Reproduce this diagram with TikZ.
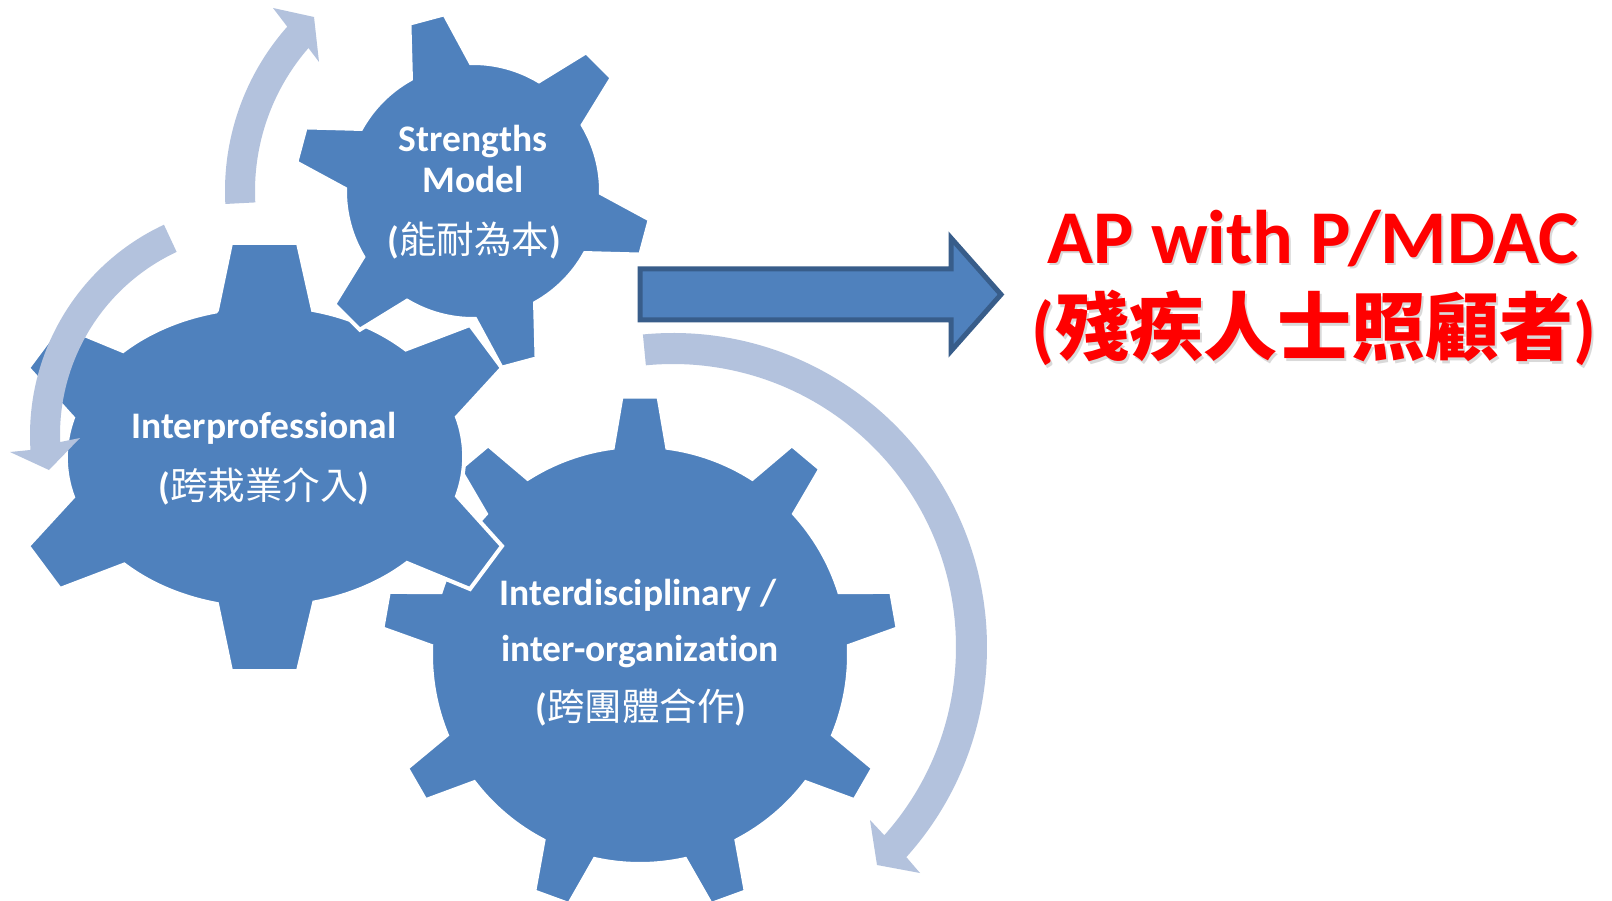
\documentclass[tikz,border=0pt]{standalone}
\usepackage{fontspec}
\setmainfont{Carlito}[Ligatures=CommonOff]
\newfontfamily\cjk{Noto Sans CJK TC}
\definecolor{gearblue}{HTML}{4F81BD}
\definecolor{cyclearrow}{HTML}{B3C2DD}
\definecolor{arrowedge}{HTML}{385D8A}
\newcommand\gearoutline[6]{% n, theta0, r, R, alpha, beta
 ({#2-#5}:#3) \foreach \k in {1,...,#1}{ -- ({#2+360/#1*(\k-1)-#6}:#4) -- ({#2+360/#1*(\k-1)+#6}:#4) -- ({#2+360/#1*(\k-1)+#5}:#3) arc[start angle={#2+360/#1*(\k-1)+#5}, end angle={#2+360/#1*\k-#5}, radius=#3] } -- cycle}
\tikzset{
  gear/.style={fill=gearblue, draw=white, line width=4pt, line join=miter},
  cyc/.style={fill=cyclearrow},
  bigarrow/.style={fill=gearblue, draw=arrowedge, line width=5pt, line join=miter},
  gtext/.style={text=white, font=\bfseries\fontsize{37.5}{40}\selectfont, inner sep=0pt, anchor=base},
  gcjk/.style={text=white, font=\bfseries\fontsize{37.5}{40}\selectfont, inner sep=0pt, anchor=base},
  redtext/.style={text=red, font=\bfseries\fontsize{76}{90}\selectfont, inner sep=0pt, anchor=base},
  redcjk/.style={text=red, font=\bfseries\fontsize{74}{80}\selectfont, inner sep=0pt, anchor=base},
  shadowtext/.style={text=black, opacity=0.15},
}
\begin{document}
\begin{tikzpicture}[x=1pt,y=-1pt]
\useasboundingbox (0,0) rectangle (1612,901);
\fill[white] (0,0) rectangle (1612,901);

% gear 3: Interdisciplinary
\begin{scope}[shift={(640,655)}]
\path[gear] \gearoutline{9}{-90}{209}{259}{7.5}{4.1};
\end{scope}

% gear 1: Interprofessional (elliptical)
\path[gear] (217,310) -- (231,243) -- (298,243) -- (313,310)
 arc[start angle=-76.2, end angle=-44.8, x radius=197, y radius=148]
 -- (470,325) -- (502,368) -- (457,417)
 arc[start angle=-15.5, end angle=15.5, x radius=197, y radius=148]
 -- (502,546) -- (470,589) -- (407,563)
 arc[start angle=44.8, end angle=76.2, x radius=197, y radius=148]
 -- (298,671) -- (231,671) -- (217,604)
 arc[start angle=103.8, end angle=135.2, x radius=197, y radius=148]
 -- (60,589) -- (28,546) -- (73,497)
 arc[start angle=164.5, end angle=195.5, x radius=197, y radius=148]
 -- (28,368) -- (60,325) -- (123,351)
 arc[start angle=224.8, end angle=256.2, x radius=197, y radius=148] -- cycle;

% gear 2: Strengths model
\begin{scope}[shift={(473,191)}]
\path[gear] \gearoutline{6}{-105}{128}{179}{14}{5.8};
\end{scope}

% cycle arrows
\begin{scope}[shift={(473,191)}]
\path[cyc] (177:248) arc[start angle=177, end angle=221.5, radius=248]
  -- (-200,-183) -- (-159,-174) -- (-154,-129) -- (221:218)
  arc[start angle=221, end angle=177, radius=218] -- cycle;
\end{scope}
\begin{scope}[shift={(262,435)}]
\path[cyc] (245:232) arc[start angle=245, end angle=176.3, radius=232]
  -- (-252,17) -- (-213,35) -- (-182,3) -- (178:202)
  arc[start angle=178, end angle=245, radius=202] -- cycle;
\end{scope}
\begin{scope}[shift={(673,647)}]
\path[cyc] (-95.5:314) arc[start angle=-95.5, end angle=42, radius=314]
  -- (247,226) -- (204,218) -- (197,173) -- (41.7:283)
  arc[start angle=41.7, end angle=-95.5, radius=283] -- cycle;
\end{scope}

% big arrow
\path[bigarrow] (640,269) -- (951,269) -- (951,238) -- (1001,294.5) -- (951,351) -- (951,320) -- (640,320) -- cycle;

% gear texts
\node[gtext] (s1) at (473,152) {Strengths};
\node[gtext] (s2) at (473,193) {Model};
\node[gcjk] (s3) at (474,254) {({\mdseries\cjk 能耐為本})};
\node[gtext] (p1) at (264,438) {Interprofessional};
\node[gcjk] (p2) at (264,499) {({\mdseries\cjk 跨栽業介入})};
\node[gtext] (d1) at (638,605) {Interdisciplinary /};
\node[gtext] (d2) at (640,661) {inter-organization};
\node[gcjk] (d3) at (641,720) {({\mdseries\cjk 跨團體合作})};

% red text
\node[redtext, shadowtext] (r1s) at (1315,266) {AP with P/MDAC};
\node[redtext] (r1) at (1313,264) {AP with P/MDAC};
\node[redcjk, shadowtext] (r2s) at (1316,357) {({\cjk 殘疾人士照顧者})};
\node[redcjk] (r2) at (1314,355) {({\cjk 殘疾人士照顧者})};
\end{tikzpicture}
\end{document}
